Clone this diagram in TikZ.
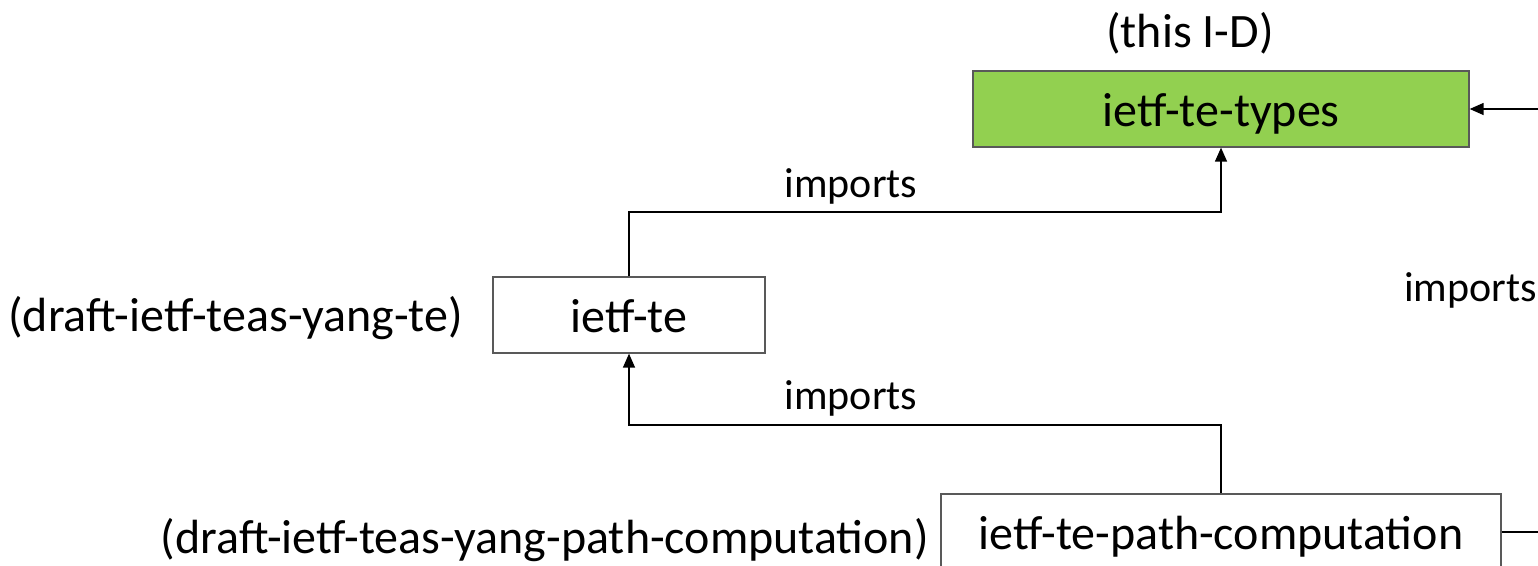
\documentclass[tikz,border=0pt]{standalone}
\usepackage{fontspec}
\setmainfont{Carlito}
\usetikzlibrary{arrows.meta}
\definecolor{boxgreen}{HTML}{92D050}
\definecolor{boxline}{HTML}{595959}
\tikzset{
  module/.style={draw=boxline, line width=1.3pt, text height=55pt, text depth=21pt, inner sep=0pt, font=\fontsize{48}{52}\selectfont},
  note/.style={inner sep=0pt, font=\fontsize{48}{52}\selectfont},
  tag/.style={inner sep=0pt, font=\fontsize{42}{46}\selectfont},
  link/.style={draw=black, line width=1.4pt, -{Triangle[length=14pt,width=12pt]}},
  wire/.style={draw=black, line width=1.4pt},
}
\begin{document}
\begin{tikzpicture}[x=1pt, y=-1pt]
\useasboundingbox (0,0) rectangle (1538,565);
\clip (0,0) rectangle (1538,565);
% modules
\node[module, fill=boxgreen, minimum width=496pt] (types) at (1221,109) {ietf-te-types};
\node[module, minimum width=272pt] (te) at (629,315) {ietf-te};
\node[module, minimum width=560pt] (pc) at (1221,532) {ietf-te-path-computation};
% notes
\node[note] (typesnote) at (1190,33) {(this I-D)};
\node[note, anchor=east] (tenote) at (463,318) {(draft-ietf-teas-yang-te)};
\node[note, anchor=east] (pcnote) at (929,540) {(draft-ietf-teas-yang-path-computation)};
% edge points
\coordinate (in1) at (1545,109);
\coordinate (out1) at (1545,532);
% import relations
\draw[link] (te.north) |- (1221,212) -- (types.south);
\draw[link] (pc.north) |- (629,425) -- (te.south);
\draw[link] (in1) -- (types.east);
\draw[wire] (pc.east) -- (out1);
% labels
\node[tag] (lab1) at (851,186) {imports};
\node[tag] (lab2) at (851,398) {imports};
\node[tag, anchor=west] (lab3) at (1404,290) {imports};
\end{tikzpicture}
\end{document}
